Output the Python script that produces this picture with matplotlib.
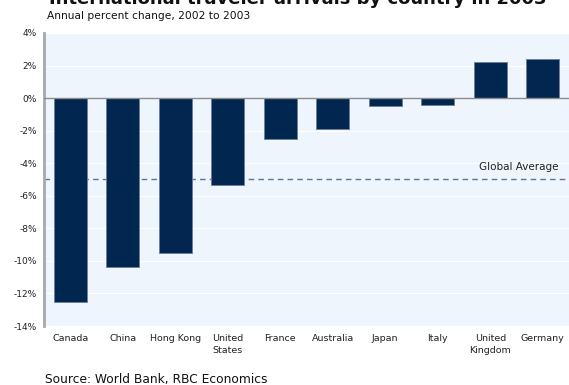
import matplotlib.pyplot as plt
import numpy as np

# International traveler arrivals, annual % change 2002 -> 2003
countries = ['Canada', 'China', 'Hong Kong', 'United\nStates', 'France',
             'Australia', 'Japan', 'Italy', 'United\nKingdom', 'Germany']
change = [-12.5, -10.4, -9.5, -5.35, -2.5, -1.9, -0.5, -0.45, 2.2, 2.4]
global_avg = -5.0
yticks = [4, 2, 0, -2, -4, -6, -8, -10, -12, -14]

plt.rcParams['font.family'] = 'DejaVu Sans'

fig = plt.figure(figsize=(5.69, 3.85), dpi=100)
ax = fig.add_axes([44/569, 1 - 326/385, 1 - 44/569, 293/385])
ax.set_facecolor('#eef5fd')

x = np.arange(len(countries))
ax.bar(x, change, width=0.625, color='#01264f', edgecolor='#6d819c', linewidth=0.7, zorder=3)

ax.axhline(0, color='#8c8c8c', linewidth=1, zorder=4)
ax.axhline(global_avg, color='#5877a0', linewidth=1, linestyle=(0, (4, 3)), zorder=2)
ax.text(len(countries) - 0.7, global_avg + 0.45, 'Global Average', ha='right', va='bottom',
        fontsize=7.5, color='#222222')

ax.set_xlim(-0.5, len(countries) - 0.5)
ax.set_ylim(-14, 4)
ax.set_yticks(yticks)
ax.set_yticklabels([f'{v}%' for v in yticks], fontsize=6.5, color='#222222')
ax.set_xticks(x)
ax.set_xticklabels(countries, fontsize=6.8, color='#222222', linespacing=1.35)
ax.tick_params(axis='both', length=0, pad=6)
ax.tick_params(axis='y', pad=5)
ax.grid(axis='y', color='white', linewidth=0.8, zorder=1)

for side in ['top', 'right', 'bottom']:
    ax.spines[side].set_visible(False)
ax.spines['left'].set_color('#a8a8a8')
ax.spines['left'].set_linewidth(2)

# title is partly cut off at the top, as in the source image
fig.text(0.523, 1 - 4/385, 'International traveler arrivals by country in 2003',
         ha='center', va='baseline', fontsize=13, fontweight='bold', color='#111111')
fig.text(47/569, 1 - 16/385, 'Annual percent change, 2002 to 2003',
         ha='left', va='center', fontsize=7.7, color='#111111')
fig.text(45/569, 1 - 379/385, 'Source: World Bank, RBC Economics',
         ha='left', va='center', fontsize=8.8, color='#111111')

fig.savefig('out.png', dpi=100)
